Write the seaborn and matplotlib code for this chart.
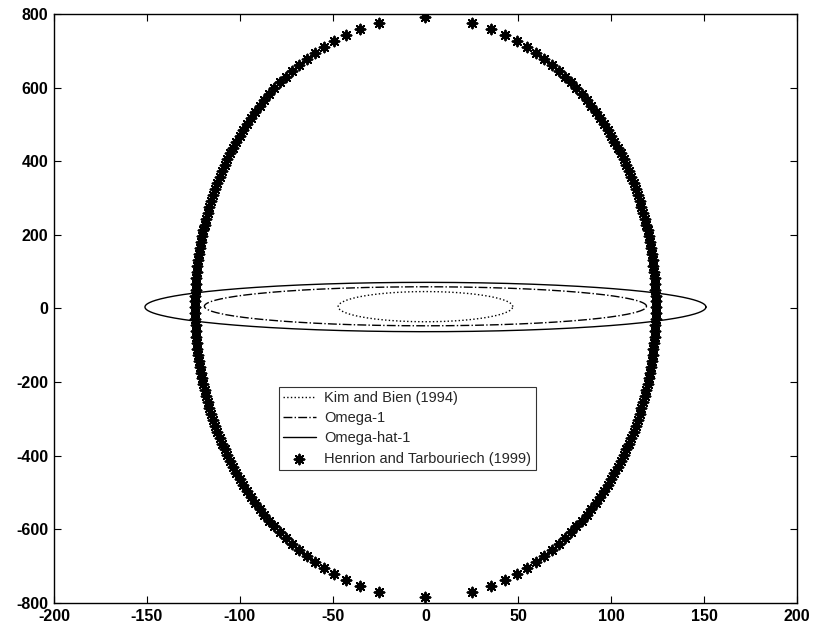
import numpy as np
import pandas as pd
import matplotlib
matplotlib.use("Agg")
import matplotlib.pyplot as plt
import seaborn as sns

# Ellipse regions (centre y, semi-axis x, semi-axis y)
names = ["Kim and Bien (1994)", "Omega-1", "Omega-hat-1"]
semi_x = [47, 119, 151]
semi_y = [41, 53, 67]
centre_y = [5, 6, 4]
styles = [":", "-.", "-"]

# Henrion and Tarbouriech (1999) ellipse sampled as stars
star_name = "Henrion and Tarbouriech (1999)"
star_semi_x = 124
star_semi_y = 788
star_centre_y = 3
star_levels_per_side = 99

xticks = [-200, -150, -100, -50, 0, 50, 100, 150, 200]
yticks = [-800, -600, -400, -200, 0, 200, 400, 600, 800]

sns.set_style("ticks")
plt.rcParams["font.family"] = ["Liberation Sans", "DejaVu Sans"]
plt.rcParams["axes.unicode_minus"] = False

fig = plt.figure(figsize=(8.17, 6.31), dpi=100)
ax = fig.add_axes([0.066, 0.0444, 0.9095, 0.9334])

t = np.linspace(0, 2 * np.pi, 400)
for n, a, b, c, ls in zip(names, semi_x, semi_y, centre_y, styles):
    df = pd.DataFrame({"x": a * np.cos(t), "y": c + b * np.sin(t)})
    sns.lineplot(data=df, x="x", y="y", sort=False, estimator=None, ax=ax,
                 color="black", linestyle=ls, linewidth=1.0, label=n)

yy = np.linspace(-star_semi_y, star_semi_y, star_levels_per_side)
xx = star_semi_x * np.sqrt(np.clip(1 - (yy / star_semi_y) ** 2, 0, None))
sdf = pd.DataFrame({"x": np.concatenate([-xx, xx]),
                    "y": star_centre_y + np.concatenate([yy, yy])})
sdf = sdf.drop_duplicates()
sns.scatterplot(data=sdf, x="x", y="y", ax=ax, marker=(8, 2, 0), s=50,
                color="black", edgecolor="black", linewidth=1.4, label=star_name)

ax.set_xlim(-200, 200)
ax.set_ylim(-800, 800)
ax.set_xticks(xticks)
ax.set_yticks(yticks)
ax.set_xlabel("")
ax.set_ylabel("")
ax.tick_params(direction="in", top=True, right=True, length=5, width=0.8,
               labelsize=11.5, colors="black", pad=4)
for lab in ax.get_xticklabels() + ax.get_yticklabels():
    lab.set_fontweight("semibold")
for sp in ax.spines.values():
    sp.set_visible(True)
    sp.set_linewidth(1.0)
    sp.set_color("black")

leg = ax.legend(loc="upper left", bbox_to_anchor=(0.303, 0.367), borderaxespad=0,
                frameon=True, fancybox=False, edgecolor="black", fontsize=10.5,
                handlelength=2.2, handletextpad=0.6, labelspacing=0.42,
                borderpad=0.3)
leg.get_frame().set_linewidth(0.8)

fig.savefig("out.png", dpi=100)
